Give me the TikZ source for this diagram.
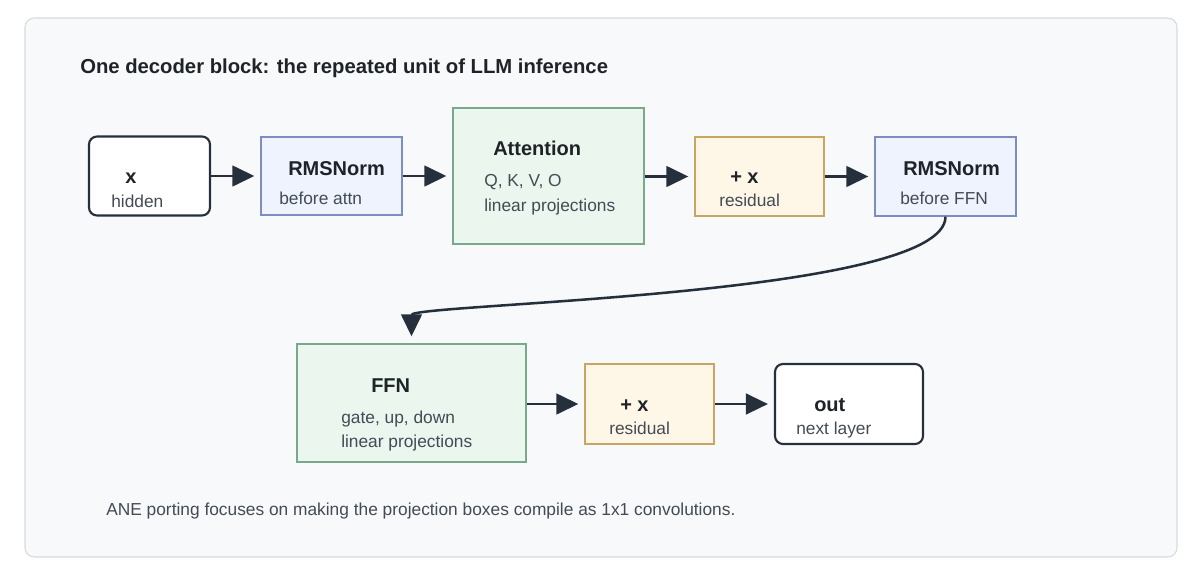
\documentclass[tikz,border=0pt]{standalone}
\usepackage{fontspec}
\setmainfont{Liberation Sans}
\usetikzlibrary{arrows.meta}
\definecolor{ink}{HTML}{26303C}
\definecolor{txt}{HTML}{1F2328}
\definecolor{subtxt}{HTML}{434B55}
\definecolor{framefill}{HTML}{F7F9FB}
\definecolor{frameline}{HTML}{D6DBE1}
\definecolor{normfill}{HTML}{EEF3FD}
\definecolor{normline}{HTML}{7D8DC2}
\definecolor{projfill}{HTML}{EAF6EE}
\definecolor{projline}{HTML}{7AA88B}
\definecolor{resfill}{HTML}{FEF6E6}
\definecolor{resline}{HTML}{C8A661}
\tikzset{
  io/.style={draw=ink,line width=1.6pt,fill=white,rounded corners=6pt,inner sep=0pt},
  normbox/.style={draw=normline,line width=1pt,fill=normfill,inner sep=0pt},
  projbox/.style={draw=projline,line width=1pt,fill=projfill,inner sep=0pt},
  resbox/.style={draw=resline,line width=1pt,fill=resfill,inner sep=0pt},
  head/.style={anchor=base west,inner sep=0pt,font=\fontsize{15}{17}\selectfont\bfseries,text=txt},
  sub/.style={anchor=base west,inner sep=0pt,font=\fontsize{13}{15}\selectfont,text=subtxt},
  arr/.style={draw=ink,line width=1.9pt,-{Triangle[length=16.5pt,width=15.5pt]},shorten >=4.5pt}
}
\begin{document}
\begin{tikzpicture}[x=0.75pt,y=-0.75pt]
\useasboundingbox (0,0) rectangle (1200,572);
\draw[draw=frameline,fill=framefill,line width=0.8pt,rounded corners=7pt] (25,18) rectangle (1177,557);
\node[anchor=base west,inner sep=0pt,font=\fontsize{15.2}{17}\selectfont\bfseries,text=txt] (title) at (80,73) {One decoder block: the repeated unit of LLM inference};

% top row
\node[io,minimum width=90.75pt,minimum height=59.25pt] (xin) at (149.5,176) {};
\node[normbox,minimum width=105.75pt,minimum height=58.5pt] (rms1) at (331.5,176) {};
\node[projbox,minimum width=143.25pt,minimum height=102pt] (attn) at (548.5,176) {};
\node[resbox,minimum width=96.75pt,minimum height=59.25pt] (res1) at (759.5,176.5) {};
\node[normbox,minimum width=105.75pt,minimum height=59.25pt] (rms2) at (945.5,176.5) {};

\node[head] (xin-t) at (125,183) {x};
\node[sub] (xin-s) at (111,207) {hidden};
\node[head] (rms1-t) at (288,175) {RMSNorm};
\node[sub] (rms1-s) at (279,204) {before attn};
\node[head] (attn-t) at (493,155) {Attention};
\node[sub] (attn-s) at (484,186) {Q, K, V, O};
\node[sub] (attn-u) at (484,211) {linear projections};
\node[head] (res1-t) at (730,183) {+ x};
\node[sub] (res1-s) at (719,206) {residual};
\node[head] (rms2-t) at (903,175) {RMSNorm};
\node[sub] (rms2-s) at (900,204) {before FFN};

% bottom row
\node[projbox,minimum width=171.75pt,minimum height=88.5pt] (ffn) at (411.5,403) {};
\node[resbox,minimum width=96.75pt,minimum height=60pt] (res2) at (649.5,404) {};
\node[io,minimum width=111pt,minimum height=60pt] (out) at (849,404) {};

\node[head] (ffn-t) at (371,392) {FFN};
\node[sub] (ffn-s) at (341,423) {gate, up, down};
\node[sub] (ffn-u) at (341,447) {linear projections};
\node[head] (res2-t) at (620,411) {+ x};
\node[sub] (res2-s) at (609,434) {residual};
\node[head] (out-t) at (814,411) {out};
\node[sub] (out-s) at (796,434) {next layer};

\node[anchor=base west,inner sep=0pt,font=\fontsize{13}{15}\selectfont,text=subtxt] (note) at (106,515) {ANE porting focuses on making the projection boxes compile as 1x1 convolutions.};

\draw[arr] (xin.east) -- (rms1.west);
\draw[arr] (rms1.east) -- (attn.west |- rms1.east);
\draw[arr] (attn.east |- res1.west) -- (res1.west);
\draw[arr] (res1.east) -- (rms2.west);
\draw[arr,shorten >=5.25pt] (rms2.south) .. controls +(0,80) and +(0,-40) .. (ffn.north);
\draw[arr] (ffn.east |- res2.west) -- (res2.west);
\draw[arr] (res2.east) -- (out.west);
\end{tikzpicture}
\end{document}
